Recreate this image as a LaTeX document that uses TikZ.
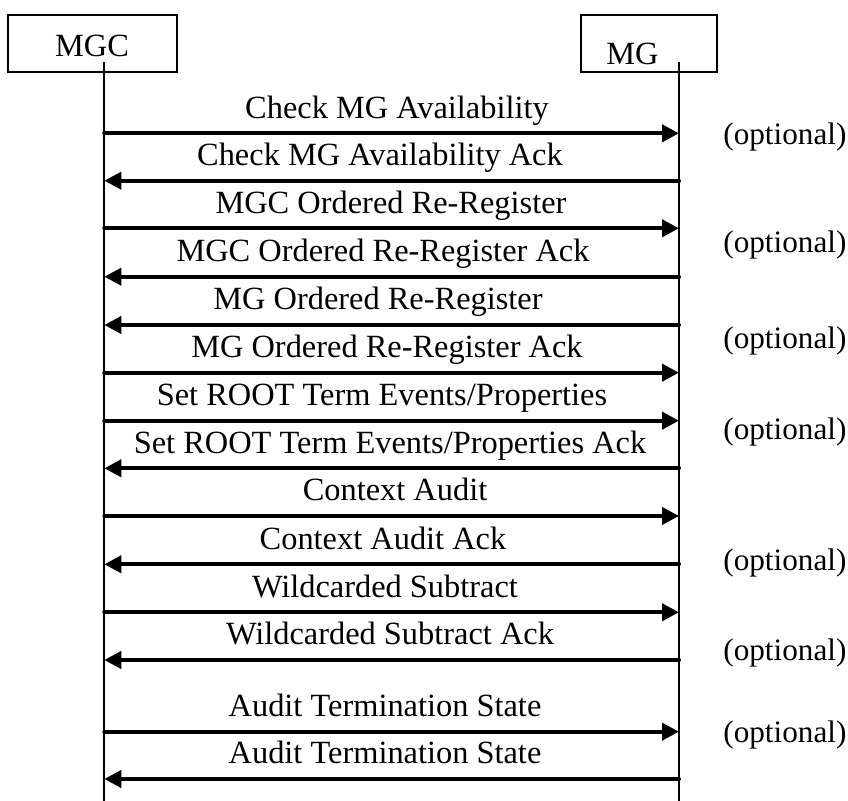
\documentclass[tikz,border=0pt]{standalone}
\usepackage{fontspec}
\setmainfont{Liberation Serif}
\usetikzlibrary{arrows.meta}
\begin{document}
\begin{tikzpicture}[x=0.5pt,y=-0.5pt,
  font=\fontsize{16.2pt}{19pt}\selectfont,
  entity/.style={draw,line width=0.85pt,inner sep=0pt},
  lifeline/.style={line width=1pt},
  msg/.style={line width=2pt,line cap=round,-{Triangle[length=8.5pt,width=8.5pt]}},
  msglabel/.style={anchor=base,inner sep=0pt},
  note/.style={anchor=base west,inner sep=0pt,font=\fontsize{15.6pt}{18pt}\selectfont}]
\useasboundingbox (0,0) rectangle (848,801);

% participants
\node[entity,minimum width=84.5pt,minimum height=28.5pt] (mgcbox) at (92.5,43.3) {};
\node[msglabel] (mgc) at (92,57) {MGC};
\node[entity,minimum width=68pt,minimum height=28.5pt] (mgbox) at (648.7,43.3) {};
\node[msglabel] (mg) at (632.5,65) {MG};

% lifelines
\coordinate (mgctop) at (104.3,62);
\coordinate (mgcend) at (104.3,801);
\coordinate (mgtop) at (679,62);
\coordinate (mgend) at (679,801);
\draw[lifeline] (mgctop) -- (mgcend);
\draw[lifeline] (mgtop) -- (mgend);

% message end points on the lifelines
\foreach \i/\y in {1/133.3,2/180.7,3/228.3,4/276.7,5/325,6/372.7,7/420.7,
                   8/468.3,9/516,10/564.3,11/612.3,12/660,13/731.7,14/779}{
  \coordinate (l\i) at (104.3,\y);
  \coordinate (r\i) at (679,\y);
}

% messages
\draw[msg] (l1) -- (r1);
\draw[msg] (r2) -- (l2);
\draw[msg] (l3) -- (r3);
\draw[msg] (r4) -- (l4);
\draw[msg] (r5) -- (l5);
\draw[msg] (l6) -- (r6);
\draw[msg] (l7) -- (r7);
\draw[msg] (r8) -- (l8);
\draw[msg] (l9) -- (r9);
\draw[msg] (r10) -- (l10);
\draw[msg] (l11) -- (r11);
\draw[msg] (r12) -- (l12);
\draw[msg] (l13) -- (r13);
\draw[msg] (r14) -- (l14);

% message labels
\node[msglabel] (t1) at (397,118.3) {Check MG Availability};
\node[msglabel] (t2) at (380,165.7) {Check MG Availability Ack};
\node[msglabel] (t3) at (391,213.3) {MGC Ordered Re-Register};
\node[msglabel] (t4) at (383,261.7) {MGC Ordered Re-Register Ack};
\node[msglabel] (t5) at (378,310) {MG Ordered Re-Register};
\node[msglabel] (t6) at (387,357.7) {MG Ordered Re-Register Ack};
\node[msglabel] (t7) at (382,405.7) {Set ROOT Term Events/Properties};
\node[msglabel] (t8) at (390,453.3) {Set ROOT Term Events/Properties Ack};
\node[msglabel] (t9) at (395,501) {Context Audit};
\node[msglabel] (t10) at (383,549.3) {Context Audit Ack};
\node[msglabel] (t11) at (385,597.3) {Wildcarded Subtract};
\node[msglabel] (t12) at (390,645) {Wildcarded Subtract Ack};
\node[msglabel] (t13) at (385,716.7) {Audit Termination State};
\node[msglabel] (t14) at (385,764) {Audit Termination State};

% optional markers
\node[note] (o1) at (723,144.5) {(optional)};
\node[note] (o2) at (723,253) {(optional)};
\node[note] (o3) at (723,349) {(optional)};
\node[note] (o4) at (723,440) {(optional)};
\node[note] (o5) at (723,571) {(optional)};
\node[note] (o6) at (723,661) {(optional)};
\node[note] (o7) at (723,743) {(optional)};
\end{tikzpicture}
\end{document}
